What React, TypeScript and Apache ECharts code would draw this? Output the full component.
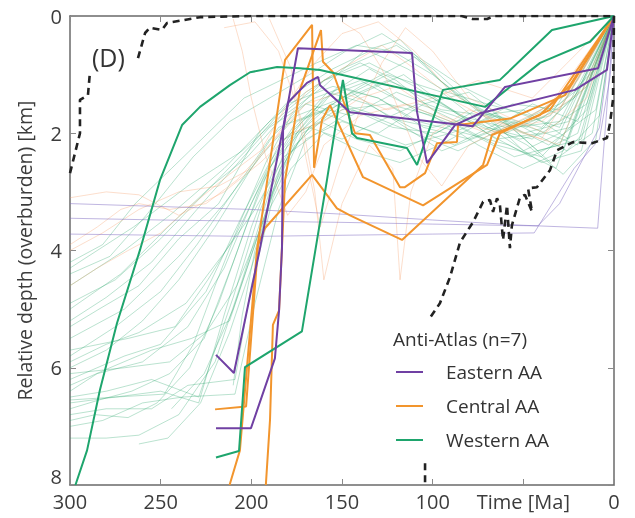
import React, { useEffect, useRef } from 'react';
import * as echarts from 'echarts';

type Pt = [number, number];

// Axis ticks
const timeTicks = [0, 50, 100, 150, 200, 250, 300];
const depthTicks = [0, 2, 4, 6, 8];

// Bold sample paths [time Ma, depth km]
const eastern1: Pt[] = [[219.5,7.03],[200.2,7.03],[187,5.84],[184.7,5.02],[183.1,3.96],[182.5,1.95],[174.3,0.55],[111.4,0.63],[108.6,1.64],[103.1,2.51],[87.7,1.86],[73.9,1.66],[21.5,1.26],[3.9,0.92],[0,0]];
const eastern2: Pt[] = [[219.5,5.78],[209.6,6.09],[195.2,3.96],[188.1,2.8],[182.5,1.91],[179.8,1.48],[169.3,1.14],[163.2,1.04],[162.1,1.18],[145.6,1.64],[77.8,1.88],[60.1,1.21],[8.8,0.89],[0,0]];
const central1: Pt[] = [[220,6.71],[202.9,6.66],[196.3,3.91],[192.5,3.62],[166.5,2.71],[152.8,3.28],[145.6,3.4],[116.9,3.82],[72.2,2.54],[67.3,2.03],[40.8,1.69],[24.3,1.18],[0,0]];
const central2: Pt[] = [[212,8],[206.3,7.41],[196.9,3.99],[181.4,0.75],[166.5,0.15],[165.4,2.59],[161,1.77],[156.6,1.52],[138.4,2.75],[105.3,3.23],[70,2.54],[62.9,2.0],[35.3,1.6],[0,0]];
const central3: Pt[] = [[192,8],[189.7,6.89],[188.1,5.27],[184.7,5.02],[181.4,2.8],[173.2,1.26],[161.6,0.24],[160.5,0.78],[155,0.96],[142.8,2.0],[134.6,2.03],[118,2.92],[115.3,2.92],[104.2,2.68],[97.6,2.17],[86.6,2.15],[86,1.86],[57.4,1.75],[27,1.35],[0,0]];
const western1: Pt[] = [[297,8],[290.6,7.41],[283.5,6.38],[274.1,5.24],[261.4,3.99],[250.4,2.8],[238.2,1.86],[228.3,1.55],[211.8,1.18],[200.7,0.96],[185.8,0.87],[173.2,0.89],[162.1,0.92],[71.1,1.55],[40.8,0.8],[13.2,0.44],[0,0]];
const western2: Pt[] = [[219.5,7.53],[206.8,7.42],[203.5,5.99],[172.1,5.38],[158.3,2.8],[149.5,1.09],[144.5,2.0],[141.7,2.08],[114.2,2.25],[108.6,2.54],[94.3,1.26],[62.9,1.09],[34.2,0.24],[0,0]];

// Dashed envelope lines
const upperDashedA: Pt[] = [[300,2.68],[294.5,2.0],[294.5,1.43],[290.1,1.35],[289,0.96]];
const upperDashedB: Pt[] = [[262.5,0.72],[258.6,0.29],[255.9,0.2],[249.3,0.24],[246.5,0.12],[228.3,0.02],[200,0],[84,0],[78,0.05],[70,0.05],[66,0],[0,0]];
const lowerDashedA: Pt[] = [[0,0],[0.55,1.43],[2.2,1.83],[3.9,2.08],[12.1,2.17],[22.6,2.15],[31.4,2.29],[35.3,2.63],[42.5,2.92],[47.4,2.94],[45.2,3.34],[49.1,3.05],[51.8,3.09],[56.3,3.57],[57.4,3.96],[59,3.23],[61.2,3.82],[62.9,3.23],[64.5,3.11],[66.7,3.34],[68.4,3.14],[72.2,3.17],[77.8,3.52],[84.9,3.86],[90.4,4.45],[96,4.9],[101.5,5.15]];
const lowerDashedB: Pt[] = [[104.2,7.63],[104.2,8]];

// Individual thin paths
const thinGreen: Pt[][] = [
  [[300,4.3],[265,3.6],[235,2.9],[205,2.3],[180,1.6],[160,1.1],[135,0.8],[110,1.2],[85,1.7],[60,1.9],[30,1.5],[10,0.9],[0,0]],
  [[300,4.6],[270,4.0],[245,3.4],[215,2.6],[190,1.8],[170,1.3],[150,0.9],[120,0.5],[100,0.9],[75,1.6],[50,2.0],[25,1.8],[0,0]],
  [[300,4.9],[275,4.5],[250,3.8],[225,3.0],[200,2.2],[180,1.5],[155,1.2],[130,1.4],[105,1.9],[80,2.1],[55,1.8],[20,2.2],[0,0]],
  [[300,5.2],[280,4.8],[255,4.2],[230,3.3],[210,2.6],[190,1.9],[165,1.4],[140,1.1],[115,1.5],[90,1.8],[65,2.2],[40,2.4],[15,1.6],[0,0]],
  [[300,5.5],[270,5.0],[240,4.1],[215,3.2],[195,2.4],[175,1.7],[150,1.4],[125,1.0],[95,1.3],[70,1.9],[45,2.1],[20,1.3],[0,0]],
  [[300,5.8],[275,5.3],[250,4.7],[230,3.9],[210,3.0],[190,2.1],[170,1.5],[145,1.7],[120,1.3],[95,1.6],[70,1.7],[50,2.3],[30,2.0],[0,0]],
  [[300,6.0],[280,5.7],[260,5.2],[240,4.5],[220,3.6],[200,2.6],[185,1.9],[160,1.6],[140,1.2],[110,0.7],[85,1.4],[60,1.8],[35,2.5],[12,2.0],[0,0]],
  [[300,6.2],[270,5.8],[250,5.6],[225,4.7],[205,3.4],[190,2.5],[175,1.8],[150,1.5],[130,1.7],[100,1.9],[75,1.7],[50,1.6],[25,2.1],[0,0]],
  [[300,6.4],[285,6.1],[260,5.9],[235,5.3],[215,4.3],[200,3.2],[185,2.2],[165,1.6],[140,1.9],[115,2.2],[90,2.0],[65,1.7],[40,1.9],[15,1.2],[0,0]],
  [[300,6.5],[280,6.4],[255,6.2],[229,6.5],[210,4.8],[195,3.3],[180,2.2],[160,1.4],[135,1.1],[110,1.6],[85,1.9],[55,2.4],[30,2.2],[0,0]],
  [[300,6.6],[275,6.5],[250,6.4],[229,6.6],[215,5.1],[200,3.6],[185,2.4],[165,1.7],[145,1.3],[120,1.8],[95,2.3],[70,2.0],[45,1.5],[20,1.8],[0,0]],
  [[300,6.8],[280,6.7],[255,6.7],[235,6.3],[209,6.2],[200,4.6],[188,3.1],[172,2.0],[150,1.6],[125,1.5],[100,1.7],[75,2.2],[50,2.6],[28,2.3],[0,0]],
  [[300,7.0],[282,6.9],[260,6.6],[238,6.5],[209,6.45],[198,4.9],[185,3.3],[170,2.1],[150,1.8],[130,2.0],[105,1.5],[80,1.3],[55,1.9],[30,1.8],[0,0]],
  [[300,7.2],[280,7.2],[262,7.15],[240,6.8],[220,5.9],[205,4.5],[190,3.0],[175,2.0],[155,1.3],[135,0.9],[112,1.3],[90,1.6],[65,2.1],[40,2.0],[15,1.5],[0,0]],
  [[300,6.3],[278,6.0],[255,5.7],[233,5.5],[212,5.2],[198,3.9],[184,2.6],[168,1.9],[148,1.4],[125,1.1],[100,1.4],[78,1.8],[52,2.1],[24,1.9],[0,0]],
  [[300,5.0],[272,4.4],[246,3.6],[222,2.9],[202,2.4],[182,1.7],[160,1.2],[138,0.6],[118,0.4],[96,1.1],[74,1.6],[48,1.9],[22,1.4],[0,0]],
  [[300,5.7],[268,5.5],[242,5.3],[224,4.5],[208,3.7],[192,2.7],[176,1.9],[158,1.3],[136,1.5],[112,1.9],[88,2.2],[62,1.8],[36,2.2],[10,1.6],[0,0]],
  [[300,4.4],[278,4.1],[258,3.4],[232,2.4],[212,1.8],[190,1.4],[168,1.0],[148,0.6],[128,0.3],[108,0.7],[84,1.2],[58,1.6],[30,1.9],[0,0]],
  [[300,6.7],[284,6.55],[266,6.4],[245,6.1],[226,5.5],[210,4.2],[196,3.0],[182,2.1],[162,1.8],[142,2.1],[118,2.3],[92,1.9],[68,1.6],[42,2.3],[18,2.1],[0,0]],
  [[300,6.9],[286,6.8],[268,6.85],[252,6.6],[234,6.0],[218,4.9],[203,3.6],[190,2.6],[172,1.8],[152,1.2],[130,1.4],[108,1.8],[82,2.0],[58,2.2],[32,2.6],[0,0]],
  [[244,6.7],[226,6.1],[210,5.0],[197,3.8],[186,2.8],[174,2.0],[156,1.5],[134,1.7],[110,2.0],[86,2.3],[60,1.9],[35,1.7],[0,0]],
  [[262,7.3],[246,7.2],[228,6.6],[212,5.4],[199,4.2],[188,3.0],[176,2.2],[158,1.7],[138,1.3],[116,1.0],[94,1.5],[70,2.0],[46,2.4],[20,2.0],[0,0]],
  [[300,5.3],[284,5.0],[262,4.6],[240,3.8],[218,3.2],[196,2.0],[175,1.3],[155,0.9],[135,0.6],[114,0.9],[92,1.3],[70,1.5],[46,1.7],[24,1.3],[0,0]],
  [[300,5.9],[280,5.6],[262,5.4],[236,4.9],[214,4.0],[198,3.3],[182,2.4],[164,2.0],[144,1.6],[122,1.9],[98,2.0],[76,1.6],[50,1.9],[26,2.3],[8,1.7],[0,0]],
  [[300,4.2],[282,3.9],[264,3.2],[244,2.6],[224,2.0],[204,1.4],[184,1.1],[164,0.8],[142,0.5],[122,0.6],[100,1.0],[80,1.5],[60,2.0],[38,1.7],[14,1.1],[0,0]],
  [[300,6.1],[270,6.0],[245,5.9],[225,5.4],[208,4.6],[192,3.4],[178,2.6],[160,2.0],[140,2.3],[118,2.5],[96,2.2],[72,1.8],[48,2.2],[28,2.7],[10,2.1],[0,0]],
  [[210,6.3],[205,5.1],[198,4.0],[190,3.2],[180,2.4],[168,1.9],[150,2.1],[130,1.8],[108,1.5],[88,1.7],[64,2.0],[40,2.5],[18,2.3],[0,0]],
  [[300,6.55],[275,6.5],[248,6.45],[232,5.6],[220,4.6],[206,3.5],[192,2.5],[178,1.7],[160,1.1],[140,0.8],[120,1.1],[100,1.6],[80,1.9],[56,1.5],[30,1.6],[0,0]],
];

const thinOrange: Pt[][] = [
  [[300,3.1],[280,3.0],[262,3.05],[240,3.4],[215,3.0],[195,2.5],[178,2.0],[160,1.8],[140,1.4],[120,1.2],[95,1.7],[70,2.0],[40,1.8],[15,1.2],[0,0]],
  [[300,4.0],[282,3.7],[262,3.3],[240,3.0],[218,2.9],[200,2.6],[185,2.0],[170,1.3],[150,0.9],[128,0.5],[110,0.9],[85,1.5],[60,1.9],[30,2.2],[0,0]],
  [[300,4.6],[285,4.3],[268,4.0],[250,3.7],[232,3.2],[212,2.7],[195,2.3],[180,1.5],[165,0.8],[150,0.3],[130,0.1],[110,0.6],[90,1.3],[65,1.8],[40,2.1],[0,0]],
  [[210,0.05],[205,0.6],[200,1.4],[192,2.4],[180,3.4],[170,3.0],[160,2.2],[140,1.7],[115,1.5],[90,1.8],[60,2.0],[35,1.5],[0,0]],
  [[215,0.2],[198,0.1],[185,0.6],[172,1.8],[165,3.0],[160,4.5],[150,3.2],[135,2.2],[122,2.6],[118,4.5],[112,3.0],[100,2.0],[80,1.6],[55,1.9],[30,1.6],[0,0]],
  [[190,0.05],[178,0.9],[170,2.4],[162,3.6],[152,2.6],[140,1.6],[128,0.8],[115,0.2],[100,0.6],[80,1.4],[60,1.7],[38,2.0],[15,1.4],[0,0]],
  [[150,0.1],[140,0.3],[128,0.9],[120,1.5],[108,2.4],[95,2.9],[80,2.2],[60,1.9],[40,1.6],[20,1.1],[0,0]],
  [[300,3.9],[285,3.6],[272,3.3],[262,3.2],[245,3.3],[225,3.2],[208,2.8],[190,2.2],[170,1.5],[150,1.3],[125,1.6],[100,1.4],[75,1.1],[45,1.4],[0,0]],
];

const thinPurple: Pt[][] = [
  [[300,3.2],[250,3.25],[200,3.3],[150,3.38],[100,3.48],[50,3.57],[9,3.62],[5,2.0],[0,0]],
  [[300,3.45],[250,3.48],[200,3.5],[150,3.52],[100,3.55],[42,3.58],[30,3.2],[8,1.9],[0,0]],
  [[300,3.72],[250,3.74],[200,3.76],[150,3.74],[100,3.72],[44,3.7],[22,2.6],[8,2.1],[2,1.0],[0,0]],
];

const legendNames = ['Eastern AA', 'Central AA', 'Western AA'];
const PURPLE = '#7040a3';
const ORANGE = '#f2952d';
const GREEN = '#1ea56d';

export default function App() {
  const ref = useRef<HTMLDivElement>(null);
  useEffect(() => {
    const chart = echarts.init(ref.current!, null, { renderer: 'svg' });
    const FONT = 'Open Sans, DejaVu Sans, sans-serif';

    const thin = (name: string, data: Pt[], color: string): any => ({
      type: 'line', name, data, symbol: 'none', showSymbol: false, silent: true, z: 1,
      lineStyle: { width: 1, color }, itemStyle: { color }, emphasis: { disabled: true },
    });
    const bold = (name: string, data: Pt[], color: string): any => ({
      type: 'line', name, data, symbol: 'none', showSymbol: false, silent: true, z: 3,
      lineStyle: { width: 2, color }, itemStyle: { color }, emphasis: { disabled: true },
    });
    const dashed = (name: string, data: Pt[]): any => ({
      type: 'line', name, data, symbol: 'none', showSymbol: false, silent: true, z: 4,
      lineStyle: { width: 2.6, color: '#222', type: [7, 5] }, itemStyle: { color: '#222' }, emphasis: { disabled: true },
    });

    const series: any[] = [];
    thinGreen.forEach((d, i) => series.push(thin('tg' + i, d, 'rgba(40,165,105,0.32)')));
    thinOrange.forEach((d, i) => series.push(thin('to' + i, d, 'rgba(245,160,110,0.35)')));
    thinPurple.forEach((d, i) => series.push(thin('tp' + i, d, 'rgba(130,110,195,0.5)')));
    series.push(bold(legendNames[1], central1, ORANGE));
    series.push(bold(legendNames[1], central2, ORANGE));
    series.push(bold(legendNames[1], central3, ORANGE));
    series.push(bold(legendNames[2], western1, GREEN));
    series.push(bold(legendNames[2], western2, GREEN));
    series.push(bold(legendNames[0], eastern1, PURPLE));
    series.push(bold(legendNames[0], eastern2, PURPLE));
    series.push(dashed('d1', upperDashedA));
    series.push(dashed('d2', upperDashedB));
    series.push(dashed('d3', lowerDashedA));
    series.push(dashed('d4', lowerDashedB));

    const axisLineStyle = { color: '#6a6a6a', width: 1.5 };
    const tickStyle = { show: true, inside: true, length: 6, lineStyle: { color: '#8a8a8a', width: 1 } };
    const xMin = timeTicks[0], xMax = timeTicks[timeTicks.length - 1];
    const yMin = depthTicks[0], yMax = depthTicks[depthTicks.length - 1];

    chart.setOption({
      animation: false,
      textStyle: { fontFamily: FONT },
      grid: { left: 70, right: 21, top: 16, bottom: 33, containLabel: false },
      xAxis: [
        {
          type: 'value', min: xMin, max: xMax, interval: 50, inverse: true, position: 'bottom',
          axisLine: { show: true, onZero: false, lineStyle: axisLineStyle },
          axisTick: tickStyle,
          axisLabel: { fontSize: 20, color: '#3c3c3c', margin: 7, lineHeight: 18, fontFamily: FONT,
            formatter: (v: number) => (v === 50 ? 'Time [Ma]' : String(v)) },
          splitLine: { show: false },
        },
        {
          type: 'value', min: xMin, max: xMax, interval: 50, inverse: true, position: 'top',
          axisLine: { show: true, onZero: false, lineStyle: axisLineStyle },
          axisTick: tickStyle, axisLabel: { show: false }, splitLine: { show: false },
        },
      ],
      yAxis: [
        {
          type: 'value', min: yMin, max: yMax, interval: 2, inverse: true, position: 'left',
          name: 'Relative depth (overburden) [km]', nameLocation: 'middle', nameGap: 36,
          nameTextStyle: { fontSize: 19.5, color: '#3c3c3c', fontFamily: FONT },
          axisLine: { show: true, onZero: false, lineStyle: axisLineStyle },
          axisTick: tickStyle,
          axisLabel: { fontSize: 20, color: '#3c3c3c', margin: 8, lineHeight: 18, fontFamily: FONT,
            verticalAlignMaxLabel: 'bottom' },
          splitLine: { show: false },
        },
        {
          type: 'value', min: yMin, max: yMax, interval: 2, inverse: true, position: 'right',
          axisLine: { show: true, onZero: false, lineStyle: axisLineStyle },
          axisTick: tickStyle, axisLabel: { show: false }, splitLine: { show: false },
        },
      ],
      legend: {
        data: legendNames, orient: 'vertical', left: 396, top: 361, icon: 'rect',
        itemWidth: 27, itemHeight: 2, itemGap: 12, padding: 0, selectedMode: false,
        textStyle: { fontSize: 19, color: '#333', fontFamily: FONT, padding: [0, 0, 0, 18], lineHeight: 22 },
      },
      graphic: [
        { type: 'text', left: 92, top: 44, style: { text: '(D)', fontSize: 25, fill: '#333', fontFamily: FONT } },
        { type: 'text', left: 393, top: 329, style: { text: 'Anti-Atlas (n=7)', fontSize: 19, fill: '#333', fontFamily: FONT } },
      ],
      series,
    });
    return () => chart.dispose();
  }, []);
  return <div ref={ref} style={{ position: 'fixed', left: 0, top: 0, width: 635, height: 518 }} />;
}
